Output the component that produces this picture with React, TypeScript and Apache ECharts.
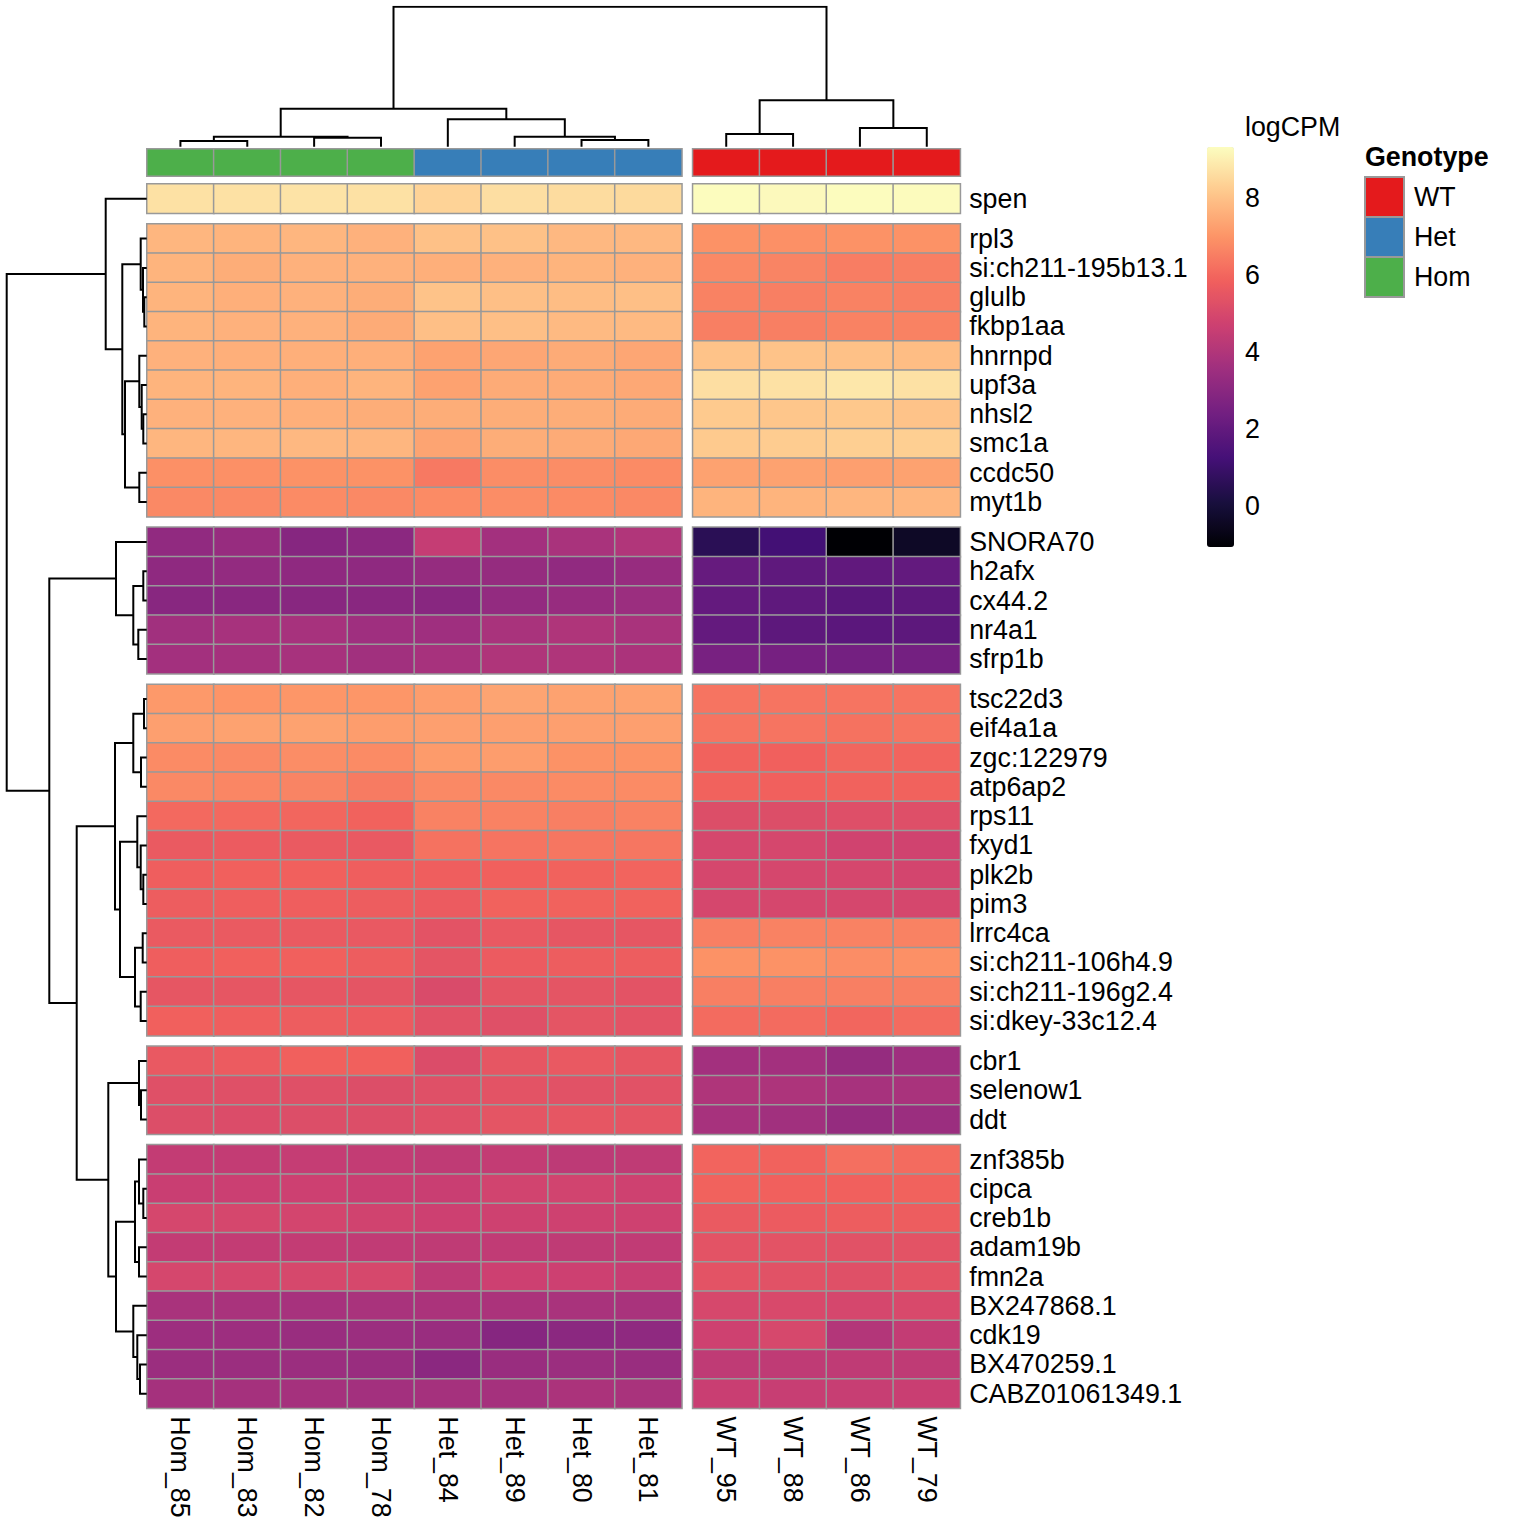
import React, { useEffect, useRef } from "react";
import * as echarts from "echarts";

const FONT = "'Liberation Sans', Arial, Helvetica, sans-serif";

// ---------- data ----------
const samples = ["Hom_85", "Hom_83", "Hom_82", "Hom_78", "Het_84", "Het_89", "Het_80", "Het_81", "WT_95", "WT_88", "WT_86", "WT_79"];
const genotype = ["Hom", "Hom", "Hom", "Hom", "Het", "Het", "Het", "Het", "WT", "WT", "WT", "WT"];
const genotypeLevels = ["WT", "Het", "Hom"];
const genotypeColors = ["#e41a1c", "#377eb8", "#4daf4a"];

const genes = [
  "spen",
  "rpl3", "si:ch211-195b13.1", "glulb", "fkbp1aa", "hnrnpd", "upf3a", "nhsl2", "smc1a", "ccdc50", "myt1b",
  "SNORA70", "h2afx", "cx44.2", "nr4a1", "sfrp1b",
  "tsc22d3", "eif4a1a", "zgc:122979", "atp6ap2", "rps11", "fxyd1", "plk2b", "pim3", "lrrc4ca", "si:ch211-106h4.9", "si:ch211-196g2.4", "si:dkey-33c12.4",
  "cbr1", "selenow1", "ddt",
  "znf385b", "cipca", "creb1b", "adam19b", "fmn2a", "BX247868.1", "cdk19", "BX470259.1", "CABZ01061349.1",
];

// logCPM, one row per gene, columns in the order of `samples`
const logCPM = [
  [8.7, 8.7, 8.75, 8.7, 8.4, 8.65, 8.6, 8.55, 9.3, 9.25, 9.3, 9.28],
  [7.75, 7.7, 7.75, 7.65, 8.0, 8.0, 7.8, 7.8, 6.95, 6.9, 6.95, 6.95],
  [7.7, 7.55, 7.65, 7.65, 7.6, 7.65, 7.7, 7.65, 6.75, 6.65, 6.5, 6.55],
  [7.7, 7.6, 7.65, 7.55, 8.05, 7.95, 7.9, 7.95, 6.6, 6.55, 6.6, 6.55],
  [7.7, 7.65, 7.65, 7.5, 7.95, 7.95, 7.85, 7.85, 6.55, 6.55, 6.6, 6.6],
  [7.65, 7.6, 7.6, 7.6, 7.3, 7.4, 7.5, 7.4, 8.05, 8.05, 8.0, 7.9],
  [7.7, 7.7, 7.6, 7.7, 7.3, 7.5, 7.5, 7.45, 8.65, 8.7, 8.85, 8.7],
  [7.65, 7.65, 7.6, 7.55, 7.55, 7.55, 7.55, 7.5, 8.2, 8.1, 8.15, 8.05],
  [7.75, 7.75, 7.8, 7.75, 7.35, 7.55, 7.5, 7.45, 8.2, 8.25, 8.3, 8.3],
  [6.9, 6.9, 6.95, 6.95, 6.4, 6.85, 6.85, 6.8, 7.3, 7.3, 7.25, 7.3],
  [6.75, 6.75, 6.8, 6.75, 6.8, 6.85, 6.8, 6.75, 7.7, 7.7, 7.75, 7.75],
  [3.2, 3.35, 2.9, 3.05, 4.5, 3.65, 3.8, 4.0, 0.55, 1.2, -1.07, -0.4],
  [3.15, 3.25, 3.15, 3.15, 3.3, 3.3, 3.2, 3.35, 2.1, 1.9, 1.95, 2.0],
  [2.95, 3.0, 2.95, 3.0, 2.95, 3.25, 3.35, 3.45, 2.05, 1.9, 1.75, 1.85],
  [3.6, 3.75, 3.75, 3.55, 3.55, 3.8, 3.95, 3.8, 2.05, 1.85, 1.8, 1.85],
  [3.65, 3.7, 3.75, 3.6, 3.75, 3.95, 3.95, 3.85, 2.55, 2.5, 2.45, 2.45],
  [7.1, 7.0, 7.05, 7.05, 7.2, 7.35, 7.3, 7.3, 6.3, 6.3, 6.3, 6.3],
  [7.25, 7.3, 7.3, 7.2, 7.25, 7.25, 7.25, 7.25, 6.3, 6.3, 6.25, 6.3],
  [6.8, 6.75, 6.85, 6.8, 7.15, 7.2, 6.95, 6.95, 5.9, 5.85, 6.0, 5.95],
  [6.75, 6.7, 6.65, 6.45, 6.75, 6.75, 6.8, 6.8, 5.9, 5.85, 5.9, 5.9],
  [6.05, 6.05, 6.0, 5.9, 6.6, 6.6, 6.55, 6.6, 5.2, 5.2, 5.25, 5.25],
  [5.65, 5.7, 5.65, 5.6, 6.25, 6.3, 6.35, 6.35, 4.95, 4.95, 4.8, 4.8],
  [5.8, 5.85, 5.85, 5.8, 5.8, 5.85, 5.9, 5.95, 4.95, 4.95, 4.95, 4.9],
  [5.75, 5.8, 5.8, 5.75, 5.7, 5.9, 5.9, 5.9, 4.95, 4.95, 4.95, 4.95],
  [5.65, 5.65, 5.65, 5.6, 5.4, 5.6, 5.5, 5.5, 6.55, 6.6, 6.6, 6.6],
  [5.8, 5.85, 5.85, 5.75, 5.45, 5.7, 5.75, 5.75, 6.95, 6.95, 6.85, 6.9],
  [5.5, 5.5, 5.5, 5.45, 5.1, 5.45, 5.45, 5.4, 6.55, 6.55, 6.55, 6.55],
  [5.85, 5.8, 5.75, 5.7, 5.35, 5.3, 5.45, 5.4, 6.1, 6.1, 6.0, 6.1],
  [5.6, 5.7, 5.85, 5.85, 5.15, 5.5, 5.6, 5.5, 3.65, 3.65, 3.3, 3.55],
  [5.3, 5.3, 5.3, 5.2, 5.3, 5.4, 5.35, 5.35, 3.95, 3.9, 3.75, 3.8],
  [5.2, 5.15, 5.2, 5.2, 5.3, 5.45, 5.5, 5.45, 3.75, 3.6, 3.3, 3.45],
  [4.45, 4.45, 4.5, 4.45, 4.35, 4.45, 4.3, 4.35, 5.95, 5.9, 6.2, 6.1],
  [4.6, 4.65, 4.7, 4.6, 4.6, 4.85, 4.85, 4.75, 5.9, 5.85, 5.85, 5.9],
  [4.95, 4.95, 4.9, 4.8, 4.7, 4.75, 4.75, 4.75, 5.65, 5.7, 5.75, 5.75],
  [4.45, 4.45, 4.45, 4.4, 4.35, 4.4, 4.35, 4.4, 5.4, 5.4, 5.35, 5.4],
  [4.95, 4.95, 5.0, 5.0, 4.3, 4.7, 4.7, 4.55, 5.4, 5.35, 5.3, 5.4],
  [3.8, 3.8, 3.75, 3.8, 3.85, 3.85, 3.8, 3.8, 5.0, 5.05, 4.95, 5.05],
  [3.5, 3.5, 3.4, 3.45, 3.4, 2.9, 3.05, 3.15, 4.75, 5.0, 4.05, 4.45],
  [3.45, 3.45, 3.45, 3.4, 3.05, 3.4, 3.45, 3.4, 4.35, 4.35, 4.35, 4.35],
  [3.7, 3.7, 3.7, 3.65, 3.7, 3.7, 3.85, 3.8, 4.6, 4.55, 4.55, 4.6],
];

const rowGroupSizes = [1, 10, 5, 12, 3, 9];
const colGroupSizes = [8, 4];

// hclust-style merges: negative = leaf (1-based, display order), positive = earlier merge; third = height
const colMerge: [number, number, number][] = [
  [-1, -2, 5.7], [-3, -4, 9], [1, 2, 10], [-7, -8, 6.7], [-6, 4, 10], [-5, 5, 27.4],
  [3, 6, 38], [-9, -10, 12.7], [-11, -12, 18.7], [8, 9, 46.4], [7, 10, 140],
];
const rowMerge: [number, number, number][] = [
  [-4, -5, 2.4], [-3, 1, 3.7], [-2, 2, 6], [-8, -9, 3.4], [-7, 4, 5], [-6, 5, 7.4],
  [-10, -11, 7.4], [6, 7, 21.7], [3, 8, 24.4], [-1, 9, 41],
  [-13, -14, 3.4], [-15, -16, 8.4], [11, 12, 13.4], [-12, 13, 30.7],
  [-17, -18, 2.7], [-19, -20, 5.7], [15, 16, 13.4], [-23, -24, 3.4], [-22, 18, 6], [-21, 19, 9.4],
  [-25, -26, 4], [-27, -28, 6], [21, 22, 11.7], [20, 23, 26.7], [17, 24, 31.7],
  [-30, -31, 5.7], [-29, 26, 7.7],
  [-33, -34, 3.4], [-32, 28, 7.7], [-35, -36, 7.7], [29, 30, 11.7],
  [-39, -40, 6.7], [-38, 32, 9.4], [-37, 33, 13.4], [31, 34, 30.7],
  [27, 35, 38.4], [25, 36, 70], [14, 37, 97.4], [10, 38, 140],
];
const dendroMax = 140;

const colorbarTicks = [0, 2, 4, 6, 8];
const valueMin = -1.07;
const valueMax = 9.33;
const magma = ["#000004", "#180F3E", "#451077", "#721F81", "#9F2F7F", "#CD4071", "#F1605D", "#FD9567", "#FEC98D", "#FCFDBF"];

// ---------- layout ----------
const LEFT = 147;
const TOP = 184;
const CW = 66.85;
const CH = 29.27;
const GAPX = 11;
const GAPY = 10.7;
const ANN_TOP = 149;
const ANN_H = 27;
const BORDER = "#999999";
const FS = 26.8;

function starts(sizes: number[]) {
  const s: number[] = [];
  let acc = 0;
  sizes.forEach((n) => { s.push(acc); acc += n; });
  return s;
}
function groupOf(sizes: number[], i: number) {
  let acc = 0;
  for (let g = 0; g < sizes.length; g++) { acc += sizes[g]; if (i < acc) return g; }
  return sizes.length - 1;
}

function dendroSegments(merge: [number, number, number][], leafPos: number[]) {
  const pos: number[] = [];
  const hts: number[] = [];
  const segs: number[][][] = [];
  const get = (k: number) => (k < 0 ? [leafPos[-k - 1], 0] : [pos[k - 1], hts[k - 1]]);
  merge.forEach(([a, b, H]) => {
    const [pa, ha] = get(a);
    const [pb, hb] = get(b);
    segs.push([[pa, ha], [pa, H], [pb, H], [pb, hb]]);
    pos.push((pa + pb) / 2);
    hts.push(H);
  });
  return segs;
}

function buildOption() {
  const colStarts = starts(colGroupSizes);
  const rowStarts = starts(rowGroupSizes);
  const grids: any[] = [];
  const xAxes: any[] = [];
  const yAxes: any[] = [];
  const series: any[] = [];
  const hidden = { show: false };
  const catAxisBase = {
    type: "category",
    axisLine: hidden,
    axisTick: hidden,
    splitLine: hidden,
    splitArea: hidden,
  };

  const heatIdx: number[] = [];
  rowGroupSizes.forEach((rn, r) => {
    colGroupSizes.forEach((cn, c) => {
      const gi = grids.length;
      grids.push({
        left: LEFT + colStarts[c] * CW + c * GAPX,
        top: TOP + rowStarts[r] * CH + r * GAPY,
        width: cn * CW,
        height: rn * CH,
        outerBoundsMode: "none",
        containLabel: false,
      });
      const cols = samples.slice(colStarts[c], colStarts[c] + cn);
      const rows = genes.slice(rowStarts[r], rowStarts[r] + rn);
      xAxes.push({
        ...catAxisBase,
        gridIndex: gi,
        data: cols,
        position: "bottom",
        axisLabel: {
          show: r === rowGroupSizes.length - 1,
          interval: 0,
          rotate: -90,
          margin: 8,
          fontSize: FS,
          color: "#000",
          fontFamily: FONT,
        },
      });
      yAxes.push({
        ...catAxisBase,
        gridIndex: gi,
        data: rows,
        inverse: true,
        position: "right",
        axisLabel: {
          show: c === colGroupSizes.length - 1,
          interval: 0,
          margin: 9,
          fontSize: FS,
          color: "#000",
          fontFamily: FONT,
        },
      });
      const data: number[][] = [];
      rows.forEach((_, ri) => {
        cols.forEach((__, ci) => {
          data.push([ci, ri, logCPM[rowStarts[r] + ri][colStarts[c] + ci]]);
        });
      });
      heatIdx.push(series.length);
      series.push({
        type: "heatmap",
        xAxisIndex: gi,
        yAxisIndex: gi,
        data,
        itemStyle: { borderColor: BORDER, borderWidth: 1.5 },
        emphasis: { disabled: true },
      });
    });
  });

  // annotation bar
  const annIdx: number[] = [];
  colGroupSizes.forEach((cn, c) => {
    const gi = grids.length;
    grids.push({
      left: LEFT + colStarts[c] * CW + c * GAPX,
      top: ANN_TOP,
      width: cn * CW,
      height: ANN_H,
      outerBoundsMode: "none",
      containLabel: false,
    });
    const cols = samples.slice(colStarts[c], colStarts[c] + cn);
    xAxes.push({ ...catAxisBase, gridIndex: gi, data: cols, axisLabel: hidden });
    yAxes.push({ ...catAxisBase, gridIndex: gi, data: ["Genotype"], axisLabel: hidden });
    annIdx.push(series.length);
    series.push({
      type: "heatmap",
      xAxisIndex: gi,
      yAxisIndex: gi,
      data: cols.map((_, ci) => [ci, 0, genotypeLevels.indexOf(genotype[colStarts[c] + ci])]),
      itemStyle: { borderColor: BORDER, borderWidth: 1.5 },
      emphasis: { disabled: true },
    });
  });

  // column dendrogram
  const colUnits = samples.length + (colGroupSizes.length - 1) * (GAPX / CW);
  const colLeafPos = samples.map((_, i) => i + 0.5 + groupOf(colGroupSizes, i) * (GAPX / CW));
  {
    const gi = grids.length;
    grids.push({
      left: LEFT,
      top: ANN_TOP - 2.3 - dendroMax,
      width: colUnits * CW,
      height: dendroMax,
      outerBoundsMode: "none",
      containLabel: false,
    });
    xAxes.push({ type: "value", gridIndex: gi, min: 0, max: colUnits, show: false });
    yAxes.push({ type: "value", gridIndex: gi, min: 0, max: dendroMax, show: false });
    series.push({
      type: "lines",
      coordinateSystem: "cartesian2d",
      xAxisIndex: gi,
      yAxisIndex: gi,
      polyline: true,
      silent: true,
      lineStyle: { color: "#000", width: 2, opacity: 1, curveness: 0 },
      data: dendroSegments(colMerge, colLeafPos).map((coords) => ({ coords })),
    });
  }

  // row dendrogram
  const rowUnits = genes.length + (rowGroupSizes.length - 1) * (GAPY / CH);
  const rowLeafPos = genes.map((_, i) => i + 0.5 + groupOf(rowGroupSizes, i) * (GAPY / CH));
  {
    const gi = grids.length;
    grids.push({
      left: LEFT - 0.3 - dendroMax,
      top: TOP,
      width: dendroMax,
      height: rowUnits * CH,
      outerBoundsMode: "none",
      containLabel: false,
    });
    xAxes.push({ type: "value", gridIndex: gi, min: 0, max: dendroMax, inverse: true, show: false });
    yAxes.push({ type: "value", gridIndex: gi, min: 0, max: rowUnits, inverse: true, show: false });
    series.push({
      type: "lines",
      coordinateSystem: "cartesian2d",
      xAxisIndex: gi,
      yAxisIndex: gi,
      polyline: true,
      silent: true,
      lineStyle: { color: "#000", width: 2, opacity: 1, curveness: 0 },
      data: dendroSegments(rowMerge, rowLeafPos).map((seg) => ({ coords: seg.map(([p, h]) => [h, p]) })),
    });
  }

  // colorbar tick axis
  const CB_LEFT = 1207;
  const CB_TOP = 147;
  const CB_W = 27;
  const CB_H = 400;
  {
    const gi = grids.length;
    grids.push({ left: CB_LEFT, top: CB_TOP, width: CB_W, height: CB_H, outerBoundsMode: "none", containLabel: false });
    xAxes.push({ type: "value", gridIndex: gi, min: 0, max: 1, show: false });
    yAxes.push({
      type: "value",
      gridIndex: gi,
      min: valueMin,
      max: valueMax,
      position: "right",
      axisLine: hidden,
      axisTick: hidden,
      splitLine: hidden,
      axisLabel: {
        customValues: colorbarTicks,
        margin: 11,
        fontSize: FS,
        color: "#000",
        fontFamily: FONT,
      },
    });
    series.push({ type: "line", xAxisIndex: gi, yAxisIndex: gi, data: [], silent: true });
  }

  const graphic: any[] = [
    {
      type: "text",
      left: 1245,
      top: 113,
      style: { text: "logCPM", font: `${FS}px ${FONT}`, fill: "#000" },
    },
    {
      type: "text",
      left: 1365,
      top: 143,
      style: { text: "Genotype", font: `bold ${FS}px ${FONT}`, fill: "#000" },
    },
  ];
  genotypeLevels.forEach((g, i) => {
    const y = 177 + i * 40;
    graphic.push({
      type: "rect",
      shape: { x: 1365, y, width: 39, height: 40 },
      style: { fill: genotypeColors[i], stroke: BORDER, lineWidth: 2 },
    });
    graphic.push({
      type: "text",
      x: 1414,
      y: y + 20,
      style: { text: g, font: `${FS}px ${FONT}`, fill: "#000", textVerticalAlign: "middle", verticalAlign: "middle" },
    });
  });

  return {
    animation: false,
    backgroundColor: "#ffffff",
    textStyle: { fontFamily: FONT },
    grid: grids,
    xAxis: xAxes,
    yAxis: yAxes,
    visualMap: [
      {
        type: "continuous",
        min: valueMin,
        max: valueMax,
        seriesIndex: heatIdx,
        dimension: 2,
        inRange: { color: magma },
        show: true,
        calculable: false,
        hoverLink: false,
        left: CB_LEFT,
        top: CB_TOP,
        itemWidth: CB_W,
        itemHeight: CB_H,
        padding: 0,
        text: ["", ""],
        showLabel: false,
      },
      {
        type: "piecewise",
        seriesIndex: annIdx,
        dimension: 2,
        show: false,
        pieces: genotypeLevels.map((g, i) => ({ value: i, color: genotypeColors[i], label: g })),
      },
    ],
    series,
    graphic,
  };
}

export default function App() {
  const ref = useRef<HTMLDivElement>(null);
  useEffect(() => {
    if (!ref.current) return;
    const chart = echarts.init(ref.current, undefined, { renderer: "svg" });
    chart.setOption(buildOption() as any);
    return () => chart.dispose();
  }, []);
  return (
    <div
      ref={ref}
      style={{ position: "absolute", left: 0, top: 0, width: 1536, height: 1536, background: "#fff" }}
    />
  );
}
